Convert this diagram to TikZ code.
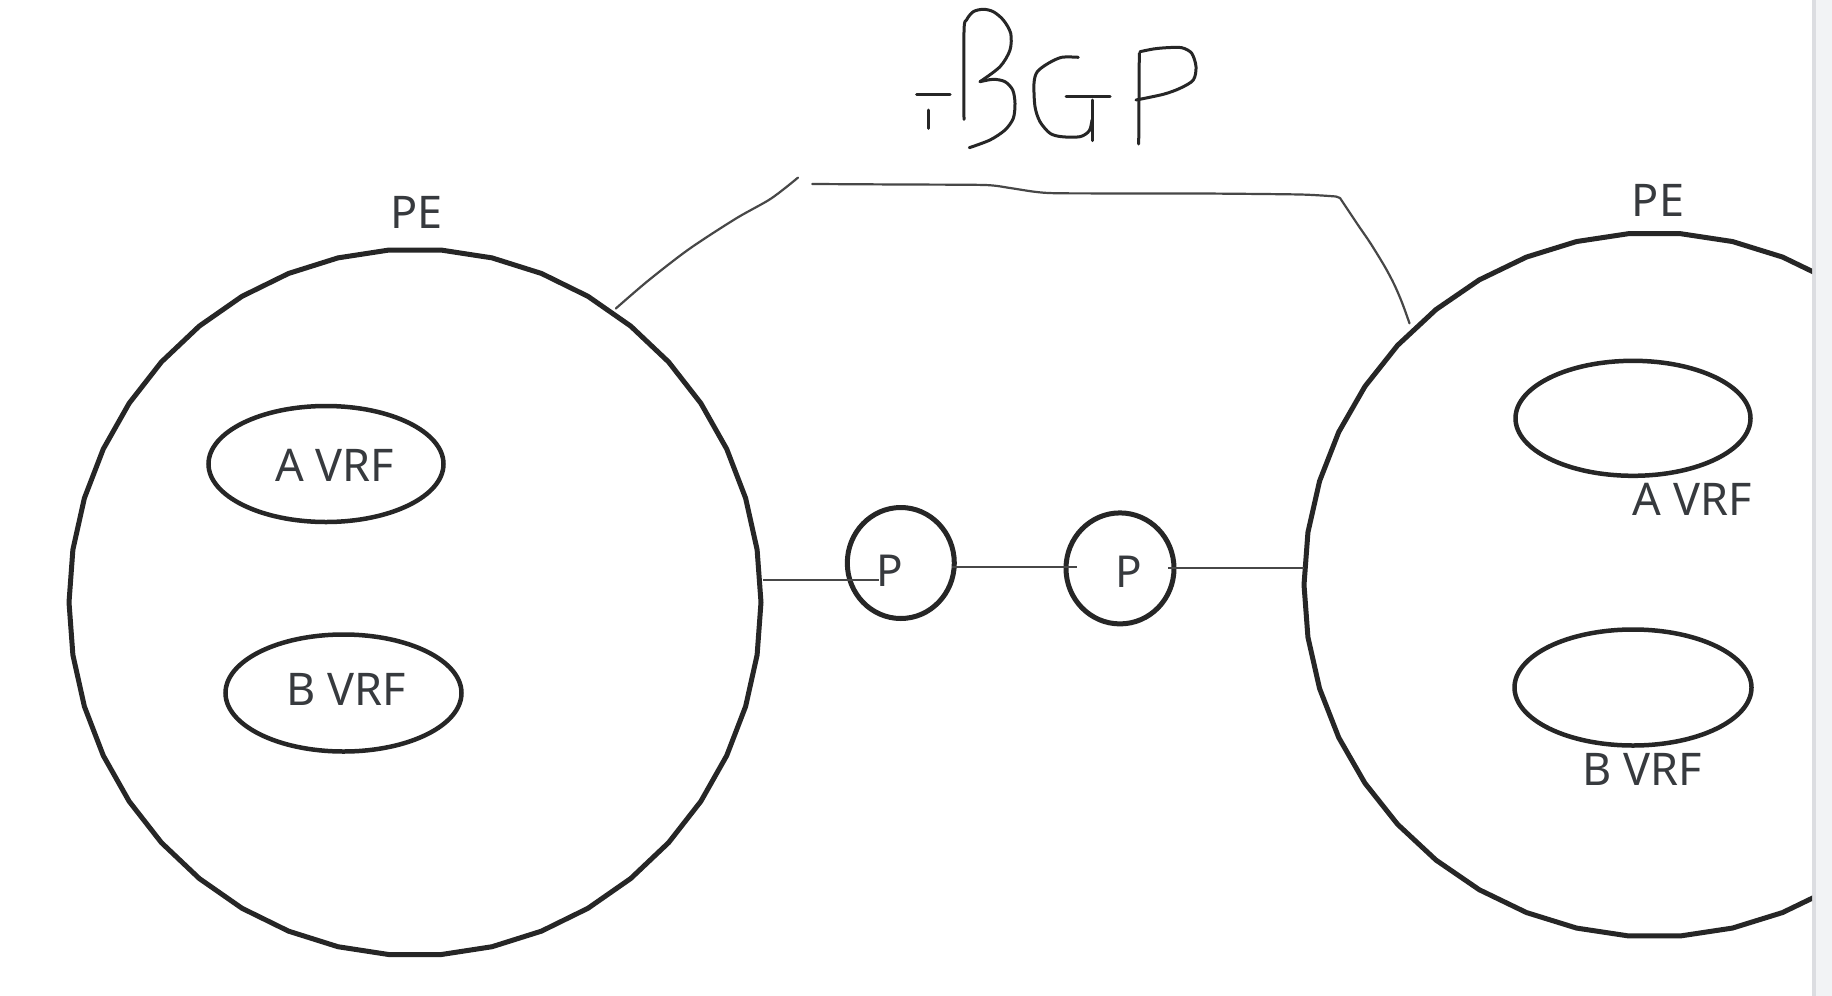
\documentclass[tikz,border=0pt]{standalone}
\usepackage{fontspec}
\setmainfont{Noto Sans}
\usetikzlibrary{shapes.geometric}
\definecolor{ink}{HTML}{262626}
\definecolor{txt}{HTML}{373A3E}
\definecolor{thinc}{HTML}{474747}
\definecolor{sbfill}{HTML}{F2F3F5}
\definecolor{sbline}{HTML}{DCDDE1}
\begin{document}
\begin{tikzpicture}[x=1pt,y=-1pt,
  bigring/.style={draw=ink,line width=5pt,line join=round},
  vrf/.style={ellipse,draw=ink,line width=4.5pt,inner sep=0pt},
  prouter/.style={ellipse,draw=ink,line width=5pt,inner sep=0pt},
  lbl/.style={text=txt,font=\fontsize{45}{54}\selectfont,inner sep=0pt},
  link/.style={draw=thinc,line width=2.5pt},
  bgpline/.style={draw=thinc,line width=2.2pt,line cap=round,line join=round},
  glyph/.style={draw=ink,line width=3pt,line cap=round,line join=round}]
\useasboundingbox (0,0) rectangle (1832,996);
\fill[white] (0,0) rectangle (1832,996);

% scrollbar strip
\fill[sbfill] (1814,0) rectangle (1832,996);
\draw[sbline,line width=3.5pt] (1814,0) -- (1814,996);

% left PE ring
\coordinate (peL) at (415,602.3);
\draw[bigring] plot[samples=43,domain=0:360,variable=\t] ({415+346*cos(\t)},{602.3+353.3*sin(\t)}) -- cycle;
% right PE ring (clipped)
\coordinate (peR) at (1654.5,584.8);
\begin{scope}
\clip (0,0) rectangle (1812,996);
\draw[bigring] plot[samples=43,domain=0:360,variable=\t] ({1654.5+350.5*cos(\t)},{584.8+352.1*sin(\t)}) -- cycle;
\end{scope}

% PE labels
\node[lbl] (peLlbl) at (416.5,212.5) {PE};
\node[lbl] (peRlbl) at (1658,200.5) {PE};

% VRF ellipses, left
\node[vrf,minimum width=235pt,minimum height=116pt] (avrfL) at (326,464) {};
\node[lbl] (avrfLt) at (334.5,465) {A VRF};
\node[vrf,minimum width=236pt,minimum height=117pt] (bvrfL) at (343.5,693) {};
\node[lbl] (bvrfLt) at (346,689) {B VRF};

% VRF ellipses, right
\node[vrf,minimum width=235pt,minimum height=115pt] (avrfR) at (1633,418.3) {};
\node[lbl] (avrfRt) at (1692,499) {A VRF};
\node[vrf,minimum width=237pt,minimum height=116pt] (bvrfR) at (1633,687.5) {};
\node[lbl] (bvrfRt) at (1642.5,769.5) {B VRF};

% P routers
\node[prouter,minimum width=107pt,minimum height=111pt] (p1) at (900.8,563) {};
\node[lbl,font=\fontsize{44}{52}\selectfont] (p1t) at (890,571) {P};
\node[prouter,minimum width=108pt,minimum height=111pt] (p2) at (1120,568.4) {};
\node[lbl,font=\fontsize{44}{52}\selectfont] (p2t) at (1129,572) {P};

% links
\coordinate (l1a) at (763,580);
\coordinate (l1b) at (879,580);
\coordinate (l2a) at (952,567);
\coordinate (l2b) at (1077,567);
\coordinate (l3a) at (1168,568);
\coordinate (l3b) at (1304,568);
\draw[link] (l1a) -- (l1b);
\draw[link] (l2a) -- (l2b);
\draw[link] (l3a) -- (l3b);

% BGP session bracket
\draw[bgpline] plot[smooth,tension=0.5] coordinates {(615.8,308.5) (648.5,280.4) (689.3,248.9) (736,218.5) (771,198.6) (798,177.6)};
\draw[bgpline] plot[smooth,tension=0.4] coordinates {(812.2,184) (900,184.5) (985,185) (1010,188) (1035,191.8) (1061.5,193.3) (1200,193.5) (1300,194.5) (1336,196.5)}
  -- (1340,198)
  plot[smooth,tension=0.5] coordinates {(1340,198) (1358,225) (1370.5,243.3) (1385,267) (1394,284) (1401,300) (1405.5,312) (1409.5,323.3)};

% handwritten BGP
\draw[glyph] (916.7,94.3) -- (950,94.3);
\draw[glyph] (928.3,110) -- (928.3,128.3);
% B
\draw[glyph] plot[smooth,tension=0.5] coordinates {(964,119.3) (964,31.7) (966.5,20) (973.3,11.7) (983.3,9.3) (993.3,11.7) (1003.3,20) (1010.7,33.3) (1010,50) (1000,66.7) (980,81.7)};
\draw[glyph] plot[smooth,tension=0.5] coordinates {(980,81.7) (993.3,79.3) (1005,81.7) (1012.7,90) (1015,103.3) (1013.3,118.3) (1005,130) (990,140) (969.3,147.7)};
% G
\draw[glyph] plot[smooth,tension=0.5] coordinates {(1078.3,57.3) (1061.7,57.3) (1048.3,63.3) (1037.3,71.7) (1034,83.3) (1035,106.7) (1040,121.7) (1050,133.3) (1061.7,136.7) (1080,136.7) (1089.3,130.7) (1092,120)};
\draw[glyph] (1092,100) -- (1092,140.7);
\draw[glyph] (1066,96) -- (1110,96);
% P
\draw[glyph] (1139.3,53.3) -- (1138.7,144);
\draw[glyph] plot[smooth,tension=0.5] coordinates {(1140,51.7) (1153.3,49) (1166.7,47.7) (1181.7,47.7) (1191.7,53.3) (1196,66.7) (1193.3,80) (1180,88.3) (1163.3,94.3) (1136,100)};
\end{tikzpicture}
\end{document}
